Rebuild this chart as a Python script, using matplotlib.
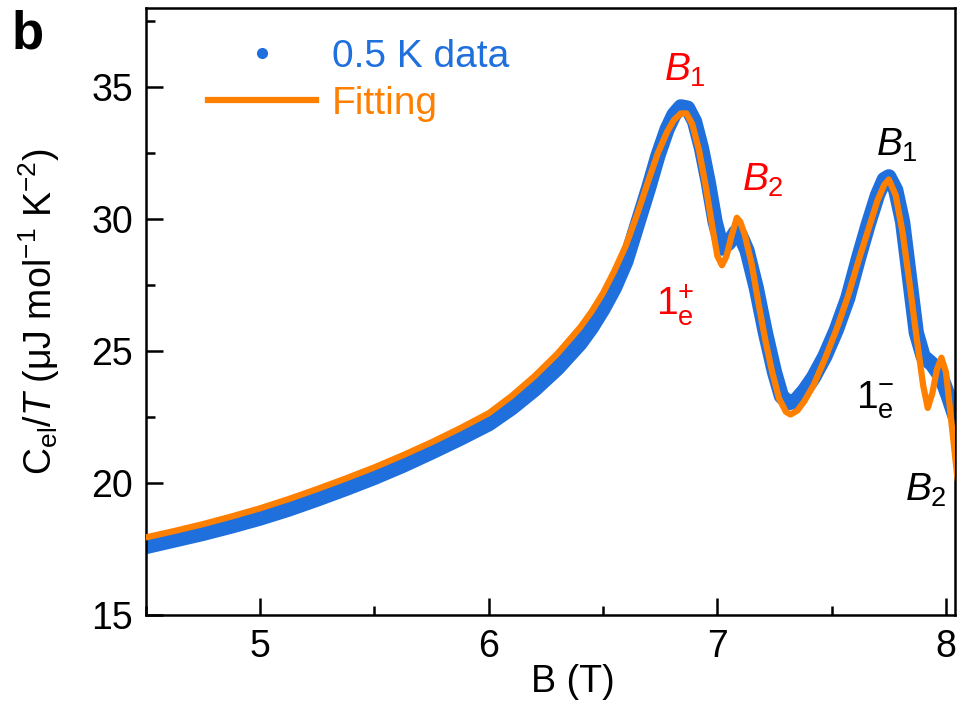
import numpy as np
import matplotlib
matplotlib.use('Agg')
import matplotlib.pyplot as plt
from matplotlib.lines import Line2D
from matplotlib.ticker import MultipleLocator

plt.rcParams['font.family'] = ['Liberation Sans', 'DejaVu Sans']
plt.rcParams['mathtext.fontset'] = 'custom'
plt.rcParams['mathtext.rm'] = 'Liberation Sans'
plt.rcParams['mathtext.it'] = 'Liberation Sans:italic'
plt.rcParams['mathtext.bf'] = 'Liberation Sans:bold'
plt.rcParams['mathtext.sf'] = 'Liberation Sans'

B_data = [4.45, 4.625, 4.75, 4.875, 5.0, 5.125, 5.25, 5.375, 5.5, 5.625,
          5.75, 5.875, 6.0, 6.1, 6.2, 6.3, 6.4, 6.45, 6.5, 6.55, 6.6, 6.65,
          6.7, 6.74, 6.78, 6.81, 6.84, 6.87, 6.9, 6.93, 6.96, 6.99, 7.02,
          7.05, 7.08, 7.10, 7.13, 7.17, 7.21, 7.25, 7.28, 7.31, 7.34, 7.38,
          7.42, 7.47, 7.52, 7.57, 7.62, 7.66, 7.70, 7.73, 7.75, 7.78, 7.81,
          7.84, 7.87, 7.90, 7.94, 7.98, 8.01, 8.06]
C_data = [17.5, 17.85, 18.1, 18.38, 18.68, 19.02, 19.4, 19.8, 20.22, 20.68,
          21.18, 21.7, 22.25, 22.85, 23.55, 24.35, 25.3, 25.9, 26.6, 27.4,
          28.4, 29.8, 31.2, 32.4, 33.4, 33.95, 34.25, 34.2, 33.7, 32.7, 31.4,
          29.9, 28.9, 29.1, 29.5, 29.4, 28.8, 27.4, 25.7, 24.2, 23.3, 23.05,
          23.1, 23.5, 24.0, 24.8, 25.8, 27.0, 28.6, 29.8, 30.9, 31.5, 31.6,
          31.1, 29.9, 27.8, 25.7, 24.8, 24.5, 24.0, 23.3, 22.0]

## fitting curve
B_fit = [4.45, 4.625, 4.75, 4.875, 5.0, 5.125, 5.25, 5.375, 5.5, 5.625,
         5.75, 5.875, 6.0, 6.1, 6.2, 6.3, 6.4, 6.45, 6.5, 6.55, 6.6, 6.65,
         6.7, 6.74, 6.78, 6.81, 6.84, 6.865, 6.89, 6.92, 6.95, 6.98, 7.0,
         7.02, 7.04, 7.06, 7.085, 7.10, 7.12, 7.15, 7.18, 7.21, 7.24, 7.27,
         7.30, 7.32, 7.35, 7.38, 7.42, 7.47, 7.52, 7.57, 7.62, 7.66, 7.70,
         7.73, 7.75, 7.78, 7.81, 7.84, 7.87, 7.90, 7.92, 7.94, 7.96, 7.98,
         8.0, 8.02, 8.05]
C_fit = [17.85, 18.19, 18.45, 18.74, 19.05, 19.4, 19.78, 20.18, 20.6, 21.06,
         21.55, 22.08, 22.65, 23.3, 24.05, 24.9, 25.9, 26.5, 27.2, 28.05,
         29.0, 30.2, 31.5, 32.5, 33.3, 33.75, 34.0, 34.0, 33.6, 32.6, 31.2,
         29.6, 28.6, 28.25, 28.6, 29.3, 30.05, 29.9, 29.4, 28.3, 26.8, 25.4,
         24.2, 23.2, 22.7, 22.6, 22.75, 23.1, 23.7, 24.7, 25.8, 27.05, 28.5,
         29.6, 30.7, 31.3, 31.5, 30.9, 29.5, 27.6, 25.6, 23.7, 22.85, 23.4,
         24.3, 24.75, 24.2, 22.6, 20.2]

blue = '#1F6FDD'
orange = '#FF8000'

fig = plt.figure(figsize=(9.59, 7.08), dpi=100)
ax = fig.add_axes([0.152, 0.131, 0.844, 0.858])

ax.plot(B_data, C_data, color=blue, lw=11, solid_capstyle='round',
        solid_joinstyle='round', zorder=2)
ax.plot(B_fit, C_fit, color=orange, lw=4.5, solid_joinstyle='round',
        zorder=3, label='Fitting')

ax.set_xlim(4.5, 8.04)
ax.set_ylim(15, 38)
ax.xaxis.set_major_locator(MultipleLocator(1))
ax.xaxis.set_minor_locator(MultipleLocator(0.5))
ax.yaxis.set_major_locator(MultipleLocator(5))
ax.yaxis.set_minor_locator(MultipleLocator(2.5))
ax.tick_params(which='both', direction='in', width=1.8, labelsize=27)
ax.tick_params(which='major', length=12)
ax.tick_params(which='minor', length=6.5)
ax.tick_params(axis='x', which='major', pad=10)
ax.tick_params(axis='y', which='major', pad=9)
for s in ax.spines.values():
    s.set_linewidth(1.8)

ax.set_xlabel('B (T)', fontsize=27)
ax.xaxis.set_label_coords(0.528, -0.08)
ax.set_ylabel(r'$\mathrm{C}_{\rm el}/T$ ($\mathrm{\mu}$J mol$^{-1}$ K$^{-2}$)', fontsize=27)
ax.yaxis.set_label_coords(-0.103, 0.5)

## legend
dot = Line2D([], [], ls='none', marker='o', ms=7, color=blue, label='0.5 K data')
fitline = Line2D([], [], color=orange, lw=4.5, label='Fitting')
lgd = ax.legend(handles=[dot, fitline], loc='upper left',
                bbox_to_anchor=(0.0766, 0.949), frameon=False, fontsize=28,
                borderpad=0, borderaxespad=0, handlelength=2.78,
                handletextpad=0.41, labelspacing=0.28, numpoints=1,
                labelcolor='linecolor')

## peak labels
ax.text(6.86, 35.64, '$B_1$', color='red', fontsize=28, ha='center', va='center')
ax.text(7.20, 31.48, '$B_2$', color='red', fontsize=28, ha='center', va='center')
ax.text(6.815, 26.74, '$1_{\\rm e}^{+}$', color='red', fontsize=28, ha='center', va='center')
ax.text(7.787, 32.8, '$B_1$', color='black', fontsize=28, ha='center', va='center')
ax.text(7.69, 23.14, '$1_{\\rm e}^{-}$', color='black', fontsize=28, ha='center', va='center')
ax.text(7.91, 19.73, '$B_2$', color='black', fontsize=28, ha='center', va='center')

fig.text(0.0125, 0.986, 'b', fontsize=38, fontweight='bold', ha='left', va='top')

fig.savefig('out.png', dpi=100)
